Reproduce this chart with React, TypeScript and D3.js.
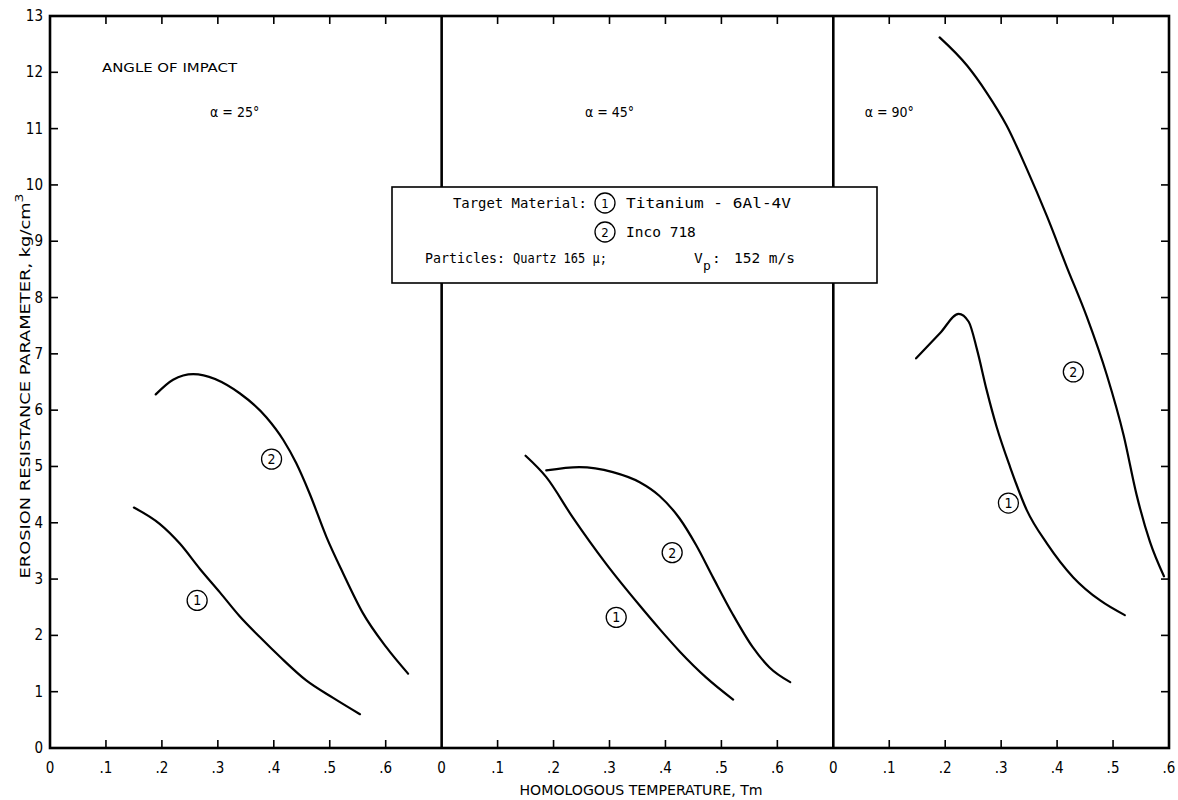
import React from 'react';
import * as d3 from 'd3';

// ---------- data ----------
const yTickValues = [0, 1, 2, 3, 4, 5, 6, 7, 8, 9, 10, 11, 12, 13];
const xTickValues = [0, 0.1, 0.2, 0.3, 0.4, 0.5, 0.6];
const xTickLabels = ['0', '.1', '.2', '.3', '.4', '.5', '.6'];
const panelMax = [0.7, 0.7, 0.6];
const panelAngles = ['α = 25°', 'α = 45°', 'α = 90°'];

// Titanium - 6Al-4V (curve 1) and Inco 718 (curve 2), [Tm, kg/cm^3]
const ti25: [number, number][] = [
  [0.15, 4.27], [0.196, 3.98], [0.232, 3.63], [0.268, 3.18], [0.304, 2.76], [0.339, 2.34],
  [0.375, 1.97], [0.411, 1.62], [0.458, 1.2], [0.506, 0.89], [0.554, 0.6],
];
const inco25: [number, number][] = [
  [0.189, 6.28], [0.22, 6.54], [0.256, 6.64], [0.339, 6.3], [0.387, 5.87], [0.417, 5.47],
  [0.44, 5.06], [0.464, 4.52], [0.494, 3.75], [0.524, 3.1], [0.559, 2.4], [0.601, 1.79], [0.64, 1.32],
];
const ti45: [number, number][] = [
  [0.15, 5.19], [0.187, 4.81], [0.234, 4.1], [0.294, 3.27], [0.354, 2.53], [0.389, 2.12],
  [0.425, 1.72], [0.473, 1.25], [0.521, 0.86],
];
const inco45: [number, number][] = [
  [0.187, 4.93], [0.246, 4.99], [0.306, 4.9], [0.354, 4.72], [0.389, 4.48], [0.425, 4.08],
  [0.455, 3.6], [0.485, 3.03], [0.52, 2.38], [0.556, 1.79], [0.586, 1.43], [0.623, 1.17],
];
const ti90: [number, number][] = [
  [0.148, 6.92], [0.191, 7.37], [0.224, 7.71], [0.242, 7.57], [0.257, 7.07], [0.274, 6.36],
  [0.292, 5.7], [0.316, 4.99], [0.346, 4.22], [0.382, 3.63], [0.429, 3.03], [0.477, 2.62], [0.521, 2.36],
];
const inco90: [number, number][] = [
  [0.19, 12.62], [0.239, 12.12], [0.274, 11.64], [0.31, 11.05], [0.346, 10.28], [0.382, 9.44],
  [0.417, 8.55], [0.453, 7.66], [0.489, 6.62], [0.519, 5.55], [0.542, 4.5], [0.566, 3.66], [0.591, 3.05],
];
const panelSeries = [
  [ti25, inco25],
  [ti45, inco45],
  [ti90, inco90],
];
// curve number labels in data units: [panel, curve, Tm, value]
const curveLabels: [number, string, number, number][] = [
  [0, '1', 0.263, 2.62], [0, '2', 0.396, 5.13],
  [1, '1', 0.312, 2.32], [1, '2', 0.412, 3.47],
  [2, '1', 0.313, 4.35], [2, '2', 0.429, 6.68],
];
const anglePos = [0.33, 0.3, 0.1];

// ---------- layout ----------
const W = 1178, H = 800;
const L = 50, R = 1169, T = 16, B = 748;
const FONT = "'DejaVu Sans Condensed', 'Liberation Sans Narrow', 'DejaVu Sans', sans-serif";
const MONO = "'DejaVu Sans Mono', monospace";

export default function App() {
  const total = d3.sum(panelMax);
  const xg = d3.scaleLinear().domain([0, total]).range([L, R]);
  const offsets = panelMax.map((_, i) => d3.sum(panelMax.slice(0, i)));
  const xs = panelMax.map((m, i) => d3.scaleLinear().domain([0, m]).range([xg(offsets[i]), xg(offsets[i] + m)]));
  const y = d3.scaleLinear().domain([0, 13]).range([B, T]);

  const tk = 8;
  const elems: React.ReactNode[] = [];

  // ticks on top/bottom
  xs.forEach((x, pi) => {
    xTickValues.forEach((v, ti) => {
      if (v > 0 && v < panelMax[pi] - 1e-9) {
        elems.push(<line key={`bt${pi}-${ti}`} x1={x(v)} x2={x(v)} y1={B} y2={B - tk} stroke="#000" strokeWidth={1.6} />);
        elems.push(<line key={`tt${pi}-${ti}`} x1={x(v)} x2={x(v)} y1={T} y2={T + tk} stroke="#000" strokeWidth={1.6} />);
      }
      elems.push(
        <text key={`xl${pi}-${ti}`} x={x(v)} y={773} textAnchor="middle" fontSize={15} fontFamily={FONT}>{xTickLabels[ti]}</text>
      );
    });
  });
  // y ticks
  yTickValues.forEach((v) => {
    if (v > 0 && v < 13) {
      elems.push(<line key={`yl${v}`} x1={L} x2={L + tk} y1={y(v)} y2={y(v)} stroke="#000" strokeWidth={1.6} />);
      elems.push(<line key={`yr${v}`} x1={R} x2={R - tk} y1={y(v)} y2={y(v)} stroke="#000" strokeWidth={1.6} />);
    }
    elems.push(
      <text key={`ylab${v}`} x={43} y={y(v) + 5} textAnchor="end" fontSize={15} fontFamily={FONT}>{String(v)}</text>
    );
  });

  const line = d3.line<[number, number]>().curve(d3.curveMonotoneX);

  return (
    <svg width={W} height={H} viewBox={`0 0 ${W} ${H}`} style={{ position: 'absolute', left: 0, top: 0, background: '#fff' }}>
      <rect x={0} y={0} width={W} height={H} fill="#fff" />
      {elems}
      {/* curves */}
      {panelSeries.map((ser, pi) =>
        ser.map((pts, si) => (
          <path key={`c${pi}-${si}`}
            d={line(pts.map(([a, b]) => [xs[pi](a), y(b)] as [number, number])) || ''}
            fill="none" stroke="#000" strokeWidth={2.2} strokeLinecap="round" />
        ))
      )}
      {/* curve labels */}
      {curveLabels.map(([pi, lab, a, b], i) => (
        <g key={`cl${i}`}>
          <circle cx={xs[pi](a)} cy={y(b)} r={10} fill="#fff" stroke="#000" strokeWidth={1.3} />
          <text x={xs[pi](a)} y={y(b) + 5} textAnchor="middle" fontSize={14} fontFamily={FONT}>{lab}</text>
        </g>
      ))}
      {/* frame and dividers */}
      <rect x={L} y={T} width={R - L} height={B - T} fill="none" stroke="#000" strokeWidth={2.6} />
      {xs.slice(1).map((x, i) => (
        <line key={`d${i}`} x1={x(0)} x2={x(0)} y1={T} y2={B} stroke="#000" strokeWidth={2.6} />
      ))}
      {/* annotations */}
      <text x={102} y={72} fontSize={13} fontFamily={FONT} textLength={135} lengthAdjust="spacingAndGlyphs">ANGLE OF IMPACT</text>
      {panelAngles.map((s, i) => (
        <text key={`ang${i}`} x={xs[i](anglePos[i])} y={117} textAnchor="middle" fontSize={14} fontFamily={FONT}>{s}</text>
      ))}
      {/* legend box */}
      <rect x={392} y={187} width={485} height={96} fill="#fff" stroke="#000" strokeWidth={1.6} />
      <g fontFamily={MONO} fontSize={14.5}>
        <text x={453} y={208} textLength={134} lengthAdjust="spacingAndGlyphs">Target Material:</text>
        <circle cx={605} cy={203} r={10} fill="none" stroke="#000" strokeWidth={1.3} />
        <text x={605} y={208} textAnchor="middle" fontSize={13} fontFamily={FONT}>1</text>
        <text x={626} y={208} textLength={165} lengthAdjust="spacingAndGlyphs">Titanium - 6Al-4V</text>
        <circle cx={605} cy={232} r={10} fill="none" stroke="#000" strokeWidth={1.3} />
        <text x={605} y={237} textAnchor="middle" fontSize={13} fontFamily={FONT}>2</text>
        <text x={626} y={237}>Inco 718</text>
        <text x={425} y={263} textLength={80} lengthAdjust="spacingAndGlyphs">Particles:</text>
        <text x={513} y={263} textLength={94} lengthAdjust="spacingAndGlyphs">Quartz 165 μ;</text>
        <text x={694} y={263}>V</text>
        <text x={703} y={270} fontSize={13}>p</text>
        <text x={712} y={263}>:</text>
        <text x={734} y={263} textLength={61} lengthAdjust="spacingAndGlyphs">152 m/s</text>
      </g>
      {/* axis titles */}
      <text x={641} y={795} textAnchor="middle" fontSize={14} fontFamily={FONT} textLength={243} lengthAdjust="spacingAndGlyphs">HOMOLOGOUS TEMPERATURE, Tm</text>
      <text transform={`translate(30, ${386}) rotate(-90)`} textAnchor="middle" fontSize={14} fontFamily={FONT} textLength={385} lengthAdjust="spacingAndGlyphs">
        EROSION RESISTANCE PARAMETER, kg/cm<tspan dy={-7} fontSize={11}>3</tspan>
      </text>
    </svg>
  );
}
